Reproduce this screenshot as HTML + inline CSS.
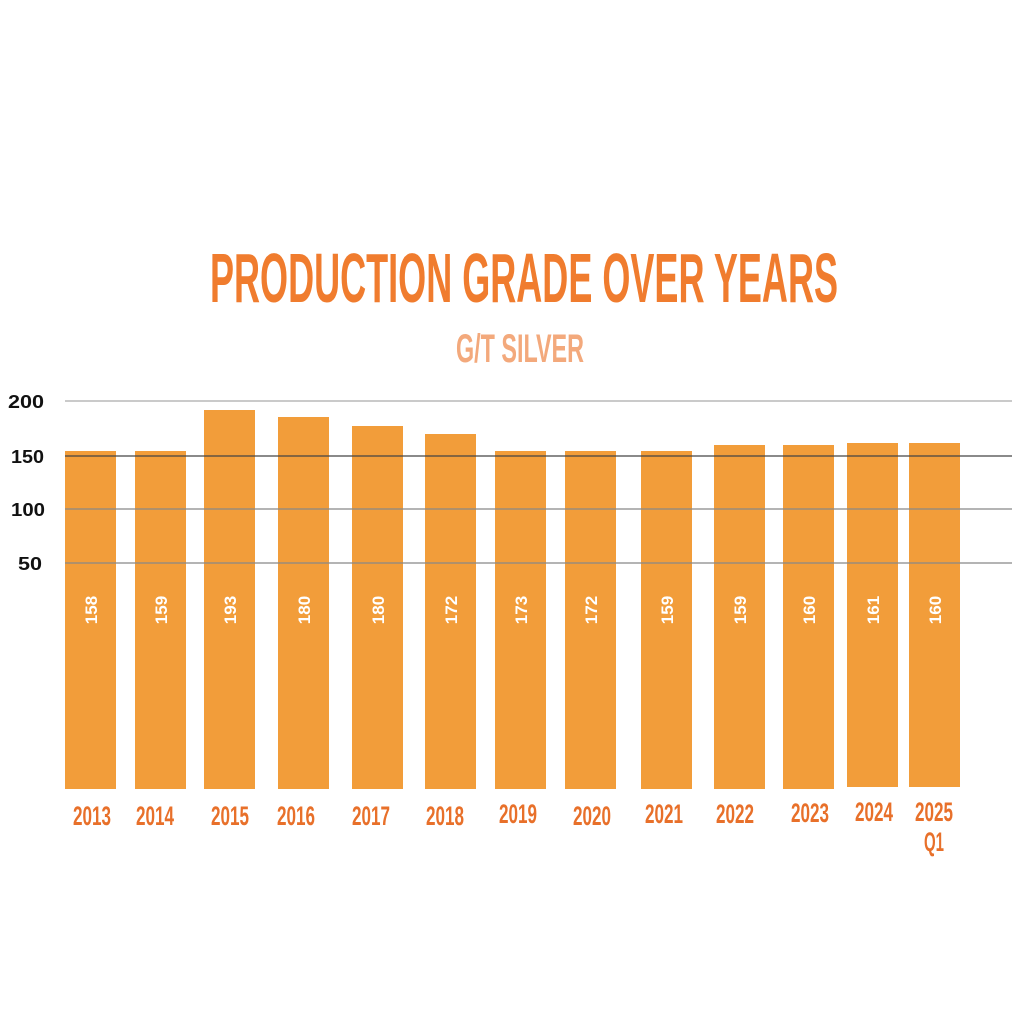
<!DOCTYPE html>
<html><head><meta charset="utf-8"><style>html,body{margin:0;padding:0;background:#fff}svg{display:block}</style></head>
<body>
<svg width="1032" height="1032" viewBox="0 0 1032 1032" xmlns="http://www.w3.org/2000/svg">
<rect width="1032" height="1032" fill="#fff"/>
<text x="210" y="302" font-family="Liberation Sans Narrow, Liberation Sans, sans-serif" font-weight="bold" font-size="70" fill="#f07c2e" textLength="628" lengthAdjust="spacingAndGlyphs">PRODUCTION GRADE OVER YEARS</text>
<text x="456" y="362" font-family="Liberation Sans Narrow, Liberation Sans, sans-serif" font-weight="bold" font-size="40" fill="#f3a97c" textLength="128" lengthAdjust="spacingAndGlyphs">G/T SILVER</text>
<g fill="#f29d3a">
<rect x="65" y="451" width="51" height="338"/>
<rect x="135" y="451" width="51" height="338"/>
<rect x="204" y="410" width="51" height="379"/>
<rect x="278" y="417" width="51" height="372"/>
<rect x="352" y="426" width="51" height="363"/>
<rect x="425" y="434" width="51" height="355"/>
<rect x="495" y="451" width="51" height="338"/>
<rect x="565" y="451" width="51" height="338"/>
<rect x="641" y="451" width="51" height="338"/>
<rect x="714" y="445" width="51" height="344"/>
<rect x="783" y="445" width="51" height="344"/>
<rect x="847" y="443" width="51" height="344"/>
<rect x="909" y="443" width="51" height="344"/>
</g>
<g stroke-width="1.2">
<line x1="65" y1="401" x2="1012" y2="401" stroke="#aaa"/>
<line x1="65" y1="456" x2="1012" y2="456" stroke="#444"/>
<line x1="65" y1="509" x2="1012" y2="509" stroke="#888"/>
<line x1="65" y1="563" x2="1012" y2="563" stroke="#888"/>
</g>
<g font-family="Liberation Sans, sans-serif" font-weight="bold" font-size="18" fill="#111">
<text x="8" y="408" textLength="36" lengthAdjust="spacingAndGlyphs">200</text>
<text x="11" y="463" textLength="33" lengthAdjust="spacingAndGlyphs">150</text>
<text x="11" y="516" textLength="34" lengthAdjust="spacingAndGlyphs">100</text>
<text x="18" y="570" textLength="24" lengthAdjust="spacingAndGlyphs">50</text>
</g>
<g font-family="Liberation Sans, sans-serif" font-weight="bold" font-size="17" fill="#fff" text-anchor="middle">
<text transform="translate(97,610) rotate(-90)">158</text>
<text transform="translate(167,610) rotate(-90)">159</text>
<text transform="translate(236,610) rotate(-90)">193</text>
<text transform="translate(310,610) rotate(-90)">180</text>
<text transform="translate(384,610) rotate(-90)">180</text>
<text transform="translate(457,610) rotate(-90)">172</text>
<text transform="translate(527,610) rotate(-90)">173</text>
<text transform="translate(597,610) rotate(-90)">172</text>
<text transform="translate(673,610) rotate(-90)">159</text>
<text transform="translate(746,610) rotate(-90)">159</text>
<text transform="translate(815,610) rotate(-90)">160</text>
<text transform="translate(879,610) rotate(-90)">161</text>
<text transform="translate(941,610) rotate(-90)">160</text>
</g>
<g font-family="Liberation Sans Narrow, Liberation Sans, sans-serif" font-weight="bold" font-size="27" fill="#e8702a" text-anchor="middle">
<text x="92" y="825" textLength="38" lengthAdjust="spacingAndGlyphs">2013</text>
<text x="155" y="825" textLength="38" lengthAdjust="spacingAndGlyphs">2014</text>
<text x="230" y="825" textLength="38" lengthAdjust="spacingAndGlyphs">2015</text>
<text x="296" y="825" textLength="38" lengthAdjust="spacingAndGlyphs">2016</text>
<text x="371" y="825" textLength="38" lengthAdjust="spacingAndGlyphs">2017</text>
<text x="445" y="825" textLength="38" lengthAdjust="spacingAndGlyphs">2018</text>
<text x="518" y="823" textLength="38" lengthAdjust="spacingAndGlyphs">2019</text>
<text x="592" y="825" textLength="38" lengthAdjust="spacingAndGlyphs">2020</text>
<text x="664" y="823" textLength="38" lengthAdjust="spacingAndGlyphs">2021</text>
<text x="735" y="823" textLength="38" lengthAdjust="spacingAndGlyphs">2022</text>
<text x="810" y="822" textLength="38" lengthAdjust="spacingAndGlyphs">2023</text>
<text x="874" y="821" textLength="38" lengthAdjust="spacingAndGlyphs">2024</text>
<text x="934" y="821" textLength="38" lengthAdjust="spacingAndGlyphs">2025</text>
<text x="934" y="851" textLength="20" lengthAdjust="spacingAndGlyphs">Q1</text>
</g>
</svg>
</body></html>
